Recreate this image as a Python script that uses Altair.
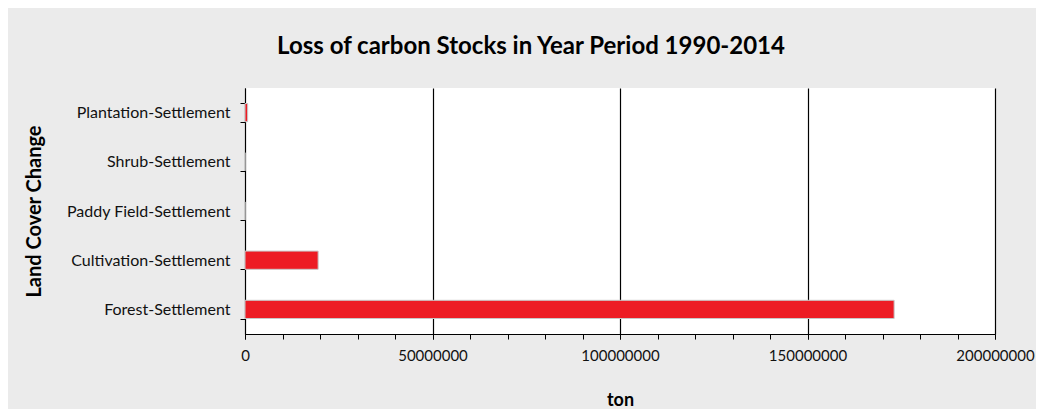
import altair as alt
import pandas as pd

categories = ["Plantation-Settlement", "Shrub-Settlement", "Paddy Field-Settlement",
              "Cultivation-Settlement", "Forest-Settlement"]
values = [700000, 0, 0, 19500000, 173100000]
major_ticks = [0, 50000000, 100000000, 150000000, 200000000]
minor_ticks = [i * 10000000 for i in range(21)]

df = pd.DataFrame({"cat": categories, "val": values})

FONT = "Lato"

x_scale = alt.Scale(domain=[0, 200000000], nice=False)

bars = alt.Chart(df).mark_bar(color="#ed1c24", stroke="#c8c8c8", strokeWidth=1).encode(
    y=alt.Y("cat:N", sort=categories,
            scale=alt.Scale(paddingInner=0.63, paddingOuter=0.315),
            axis=alt.Axis(title="Land Cover Change", titleFont=FONT, titleFontSize=20,
                          titleFontWeight="bold", titleColor="#000", titlePadding=22,
                          labelFont=FONT, labelFontSize=16, labelColor="#111",
                          labelPadding=10, tickBand="extent", tickSize=5,
                          tickColor="#000", domainColor="#000", grid=False)),
    x=alt.X("val:Q", scale=x_scale,
            axis=alt.Axis(orient="bottom", title="ton", titleFont=FONT, titleFontSize=18,
                          titleFontWeight="bold", titleColor="#000", titlePadding=28,
                          values=major_ticks, format="d", labelFont=FONT,
                          labelFontSize=15, labelColor="#111", labelPadding=9,
                          tickSize=5, tickColor="#000", domainColor="#000",
                          grid=True, gridColor="#000", gridOpacity=1, gridWidth=1.2,
                          labelFlush=False)),
)

minor = alt.Chart(pd.DataFrame({"v": minor_ticks})).mark_point(opacity=0).encode(
    x=alt.X("v:Q", scale=x_scale,
            axis=alt.Axis(orient="bottom", values=minor_ticks, labels=False, title=None,
                          grid=False, domain=False, tickSize=5, tickColor="#000"))
)

chart = alt.layer(minor, bars).resolve_axis(x="independent").properties(
    width=750, height=246,
    autosize=alt.AutoSizeParams(type="none"),
    padding={"left": 237, "top": 80, "right": 41, "bottom": 75},
    background="#ebebeb",
    title=alt.TitleParams("Loss of carbon Stocks in Year Period 1990-2014",
                          font=FONT, fontSize=24, fontWeight="bold", color="#000",
                          anchor="middle", dx=-89, offset=21),
).configure_view(fill="white", stroke=None)

chart.save("out.html", embed_options={"renderer": "svg", "actions": False})
